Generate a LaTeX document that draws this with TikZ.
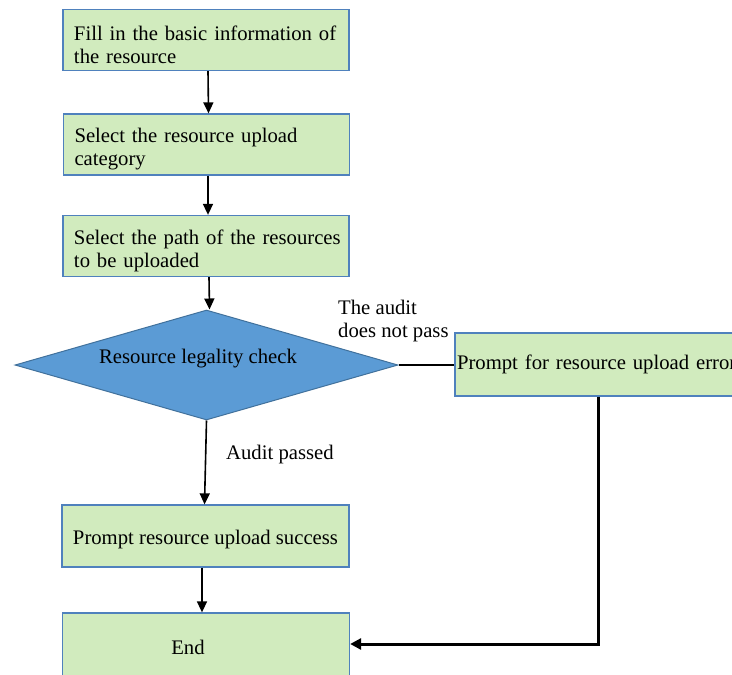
\documentclass[tikz,border=0pt]{standalone}
\usepackage{fontspec}
\setmainfont{Liberation Serif}
\usetikzlibrary{arrows.meta,shapes.geometric}
\definecolor{boxfill}{HTML}{D1EBBE}
\definecolor{boxline}{HTML}{4F81BD}
\definecolor{diafill}{HTML}{5B9BD5}
\definecolor{dialine}{HTML}{41719C}
\newcommand{\topstrut}{\rule{0pt}{24pt}}
\begin{document}
\begin{tikzpicture}[x=1pt,y=-1pt,
  every node/.style={font=\fontsize{20.7}{23}\selectfont},
  stepbox/.style={draw=boxline,fill=boxfill,line width=1.3pt,rectangle,minimum height=61pt,inner xsep=11pt,inner ysep=0pt,text width=264pt,align=left},
  centerbox/.style={draw=boxline,fill=boxfill,line width=1.3pt,rectangle,minimum width=287pt,minimum height=62pt,inner sep=0pt,align=center,text height=19.5pt,text depth=2pt},
  decide/.style={draw=dialine,fill=diafill,line width=1pt,diamond,minimum width=383pt,minimum height=110pt,inner sep=0pt},
  flow/.style={-{Triangle[length=11pt,width=10pt]},line width=1.6pt,black},
  thickflow/.style={-{Triangle[length=11pt,width=11pt]},line width=3pt,black},
  plain/.style={inner sep=0pt,align=left}]
\useasboundingbox (0,0) rectangle (732,675);
\node[stepbox] (s1) at (206,40) {\topstrut\mbox{Fill in the basic information of}\\\mbox{the resource}};
\node[stepbox] (s2) at (206.5,144.5) {\topstrut\mbox{Select the resource upload}\\\mbox{category}};
\node[stepbox] (s3) at (206,246) {\topstrut\mbox{Select the path of the resources}\\\mbox{to be uploaded}};
\node[decide] (chk) at (206.5,365) {};
\node[plain] (chkt) at (198,359) {Resource legality check};
\node[draw=boxline,fill=boxfill,line width=1.3pt,rectangle,minimum width=320pt,minimum height=63pt,inner xsep=2pt,inner ysep=0pt,text width=316pt,align=left] (err) at (615,364.5) {Prompt for resource upload error};
\node[centerbox] (ok) at (205.5,536) {Prompt resource upload success};
\node[centerbox,minimum height=70pt,text height=14pt,text depth=4pt] (end) at (206,648) {};
\node[plain] (endt) at (188,647) {End};
\node[plain,anchor=west] (nolab) at (338,321) {The audit\\does not pass};
\node[plain,anchor=west] (oklab) at (226,455) {Audit passed};
\coordinate (errdown) at (598,644);
\draw[flow] ([xshift=2pt]s1.south) -- ([xshift=2pt]s2.north);
\draw[flow] ([xshift=2pt]s2.south -| s1.south) -- ([xshift=2pt]s3.north -| s1.south);
\draw[flow] ([xshift=3pt]s3.south) -- ([xshift=3pt]chk.north);
\draw[line width=2.8pt] (chk.east) -- (err.west |- chk.east);
\draw[flow] (chk.south) -- ([xshift=-1pt]ok.north);
\draw[flow] ([xshift=-3.5pt]ok.south) -- ([xshift=-4pt]end.north);
\draw[thickflow] (err.south -| errdown) -- (errdown) -- (errdown -| end.east);
\end{tikzpicture}
\end{document}
